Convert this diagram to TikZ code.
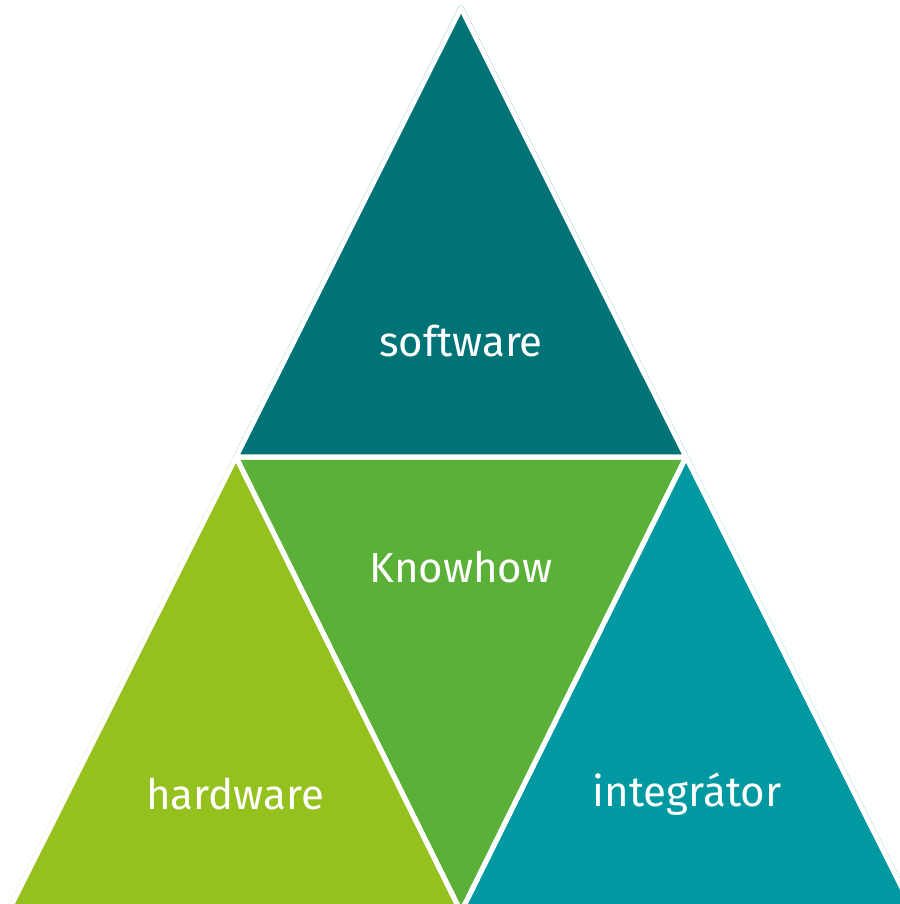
\documentclass[tikz,border=0pt]{standalone}
\usepackage{fontspec}
\setmainfont{Fira Sans}
\usepackage{tikz}
\definecolor{softteal}{HTML}{007377}
\definecolor{knowgreen}{HTML}{5BB038}
\definecolor{hardlime}{HTML}{95C11F}
\definecolor{intteal}{HTML}{0099A1}
\tikzset{tri/.style={draw=white,line width=5,line join=round},
	 lbl/.style={text=white,font=\fontsize{42}{50}\selectfont,inner sep=0pt}
	 }

\begin{document}
\begin{tikzpicture}[x=1pt,y=-1pt] % four triangles
	\useasboundingbox (0,0) rectangle (899,904);
	\coordinate (top) at (461,8);
	\coordinate (ml) at (236,457);
	\coordinate (mr) at (686,457);
	\coordinate (bl) at (8,912);
	\coordinate (bm) at (461,912);
	\coordinate (br) at (914,912);
	\fill[tri,softteal] (top) -- (ml) -- (mr) -- cycle;
	\fill[tri,knowgreen] (ml) -- (mr) -- (bm) -- cycle;
	\fill[tri,hardlime] (ml) -- (bl) -- (bm) -- cycle;
	\fill[tri,intteal] (mr) -- (bm) -- (br) -- cycle;
	\draw[tri] (top) -- (ml) -- (mr) -- cycle;
	\draw[tri] (ml) -- (mr) -- (bm) -- cycle;
	\draw[tri] (ml) -- (bl) -- (bm) -- cycle;
	\draw[tri] (mr) -- (bm) -- (br) -- cycle;
	\node[lbl] (sw) at (461,341) {software};
	\node[lbl] (kh) at (461,567) {Knowhow};
	\node[lbl] (hw) at (235,794) {hardware};
	\node[lbl] (ig) at (687,794) {integrátor};
\end{tikzpicture}
\end{document}
